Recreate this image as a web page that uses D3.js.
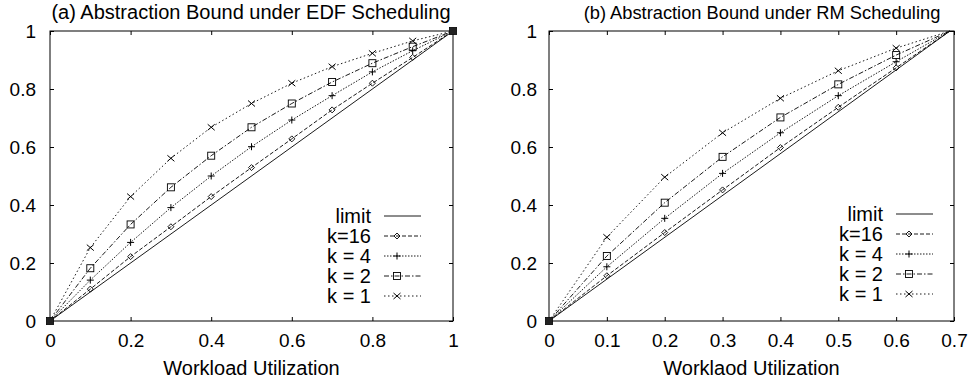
<!DOCTYPE html>
<html>
<head>
<meta charset="utf-8">
<script src="https://cdn.jsdelivr.net/npm/d3@7"></script>
<style>
  body { margin: 0; background: #fff; }
  text { font-family: "Liberation Sans", Arial, Helvetica, sans-serif; fill: #000; }
</style>
</head>
<body>
<script>
// data
const edfX = [0, 0.1, 0.2, 0.3, 0.4, 0.5, 0.6, 0.7, 0.8, 0.9, 1]
const edfK16 = [0, 0.11, 0.222, 0.325, 0.429, 0.529, 0.628, 0.728, 0.82, 0.909, 1]
const edfK4 = [0, 0.141, 0.271, 0.391, 0.5, 0.601, 0.693, 0.777, 0.859, 0.932, 1]
const edfK2 = [0, 0.182, 0.333, 0.461, 0.57, 0.668, 0.75, 0.824, 0.889, 0.946, 1]
const edfK1 = [0, 0.253, 0.429, 0.561, 0.668, 0.75, 0.82, 0.877, 0.923, 0.966, 1]

const rmX = [0, 0.1, 0.2, 0.3, 0.4, 0.5, 0.6]
const rmK16 = [0, 0.156, 0.305, 0.452, 0.598, 0.737, 0.873]
const rmK4 = [0, 0.187, 0.354, 0.509, 0.649, 0.777, 0.894]
const rmK2 = [0, 0.224, 0.408, 0.566, 0.702, 0.816, 0.917]
const rmK1 = [0, 0.289, 0.496, 0.649, 0.768, 0.863, 0.941]
const rmBound = 0.693   // every RM curve ends at (ln 2, 1)

const seriesNames = ['k=16', 'k = 4', 'k = 2', 'k = 1']
const edfXTicks = [0, 0.2, 0.4, 0.6, 0.8, 1]
const rmXTicks = [0, 0.1, 0.2, 0.3, 0.4, 0.5, 0.6, 0.7]
const yTicks = [0, 0.2, 0.4, 0.6, 0.8, 1]

// line styles / markers, one per k series
const dashes = ['4,2', '1.5,1.5', '5,2,1.5,2', '1.5,2.5']
const markers = ['diamond', 'plus', 'square', 'cross']

const svg = d3.select('body').append('svg')
    .attr('width', 970)
    .attr('height', 383)

function drawMarker(g, type, x, y) {
    const s = 3
    if (type == 'diamond') {
        g.append('path').attr('d', `M${x},${y-s}L${x+s},${y}L${x},${y+s}L${x-s},${y}Z`)
            .attr('fill', 'none').attr('stroke', '#000').attr('stroke-width', 0.9)
    } else if (type == 'plus') {
        g.append('path').attr('d', `M${x-3.5},${y}H${x+3.5}M${x},${y-3.5}V${y+3.5}`)
            .attr('stroke', '#000').attr('stroke-width', 1)
    } else if (type == 'square') {
        g.append('rect').attr('x', x-3.5).attr('y', y-3.5).attr('width', 7).attr('height', 7)
            .attr('fill', 'none').attr('stroke', '#000').attr('stroke-width', 0.9)
    } else {
        g.append('path').attr('d', `M${x-3.5},${y-3}L${x+3.5},${y+3}M${x-3.5},${y+3}L${x+3.5},${y-3}`)
            .attr('stroke', '#000').attr('stroke-width', 1)
    }
}

function drawPanel(opt) {
    const g = svg.append('g')
    const x = d3.scaleLinear().domain(opt.xDomain).range([opt.left, opt.right])
    const y = d3.scaleLinear().domain([0, 1]).range([321, 31])

    // frame
    g.append('rect')
        .attr('x', opt.left).attr('y', 31)
        .attr('width', opt.right - opt.left).attr('height', 290)
        .attr('fill', 'none').attr('stroke', '#000').attr('stroke-width', 1)

    // ticks (mirrored, pointing inward)
    g.append('g').attr('transform', 'translate(0,321)')
        .call(d3.axisBottom(x).tickValues(opt.xTicks).tickSize(-4).tickFormat(d => d3.format('~g')(d)).tickPadding(13))
        .call(a => a.select('.domain').remove())
        .call(a => a.selectAll('text').style('font-size', '19px').style('font-family', 'Liberation Sans, Arial, sans-serif'))
    g.append('g').attr('transform', 'translate(0,31)')
        .call(d3.axisTop(x).tickValues(opt.xTicks).tickSize(-4).tickFormat(''))
        .call(a => a.select('.domain').remove())
    g.append('g').attr('transform', 'translate(' + opt.left + ',0)')
        .call(d3.axisLeft(y).tickValues(yTicks).tickSize(-4).tickFormat(d => d3.format('~g')(d)).tickPadding(opt.yPad))
        .call(a => a.select('.domain').remove())
        .call(a => a.selectAll('text').style('font-size', '19px').style('font-family', 'Liberation Sans, Arial, sans-serif'))
    g.append('g').attr('transform', 'translate(' + opt.right + ',0)')
        .call(d3.axisRight(y).tickValues(yTicks).tickSize(-4).tickFormat(''))
        .call(a => a.select('.domain').remove())

    // titles
    g.append('text')
        .attr('x', opt.titleX).attr('y', 19)
        .attr('text-anchor', 'middle')
        .style('font-size', opt.titleSize)
        .text(opt.title)
    g.append('text')
        .attr('x', (opt.left + opt.right) / 2).attr('y', 375)
        .attr('text-anchor', 'middle')
        .style('font-size', '20px')
        .text(opt.xLabel)

    const line = d3.line().x(d => x(d[0])).y(d => y(d[1]))

    // limit line
    g.append('path')
        .datum([[0, 0], [opt.limitEnd, 1]])
        .attr('d', line)
        .attr('fill', 'none').attr('stroke', '#000').attr('stroke-width', 0.9)

    // k series
    opt.series.forEach((vals, i) => {
        const pts = opt.xs.map((v, j) => [v, vals[j]])
        const full = opt.tail ? pts.concat([opt.tail]) : pts
        g.append('path')
            .datum(full)
            .attr('d', line)
            .attr('fill', 'none').attr('stroke', '#000').attr('stroke-width', 0.9)
            .attr('stroke-dasharray', dashes[i])
        pts.forEach(p => drawMarker(g, markers[i], x(p[0]), y(p[1])))
    })

    // points shared by every curve show as a solid blob
    opt.shared.forEach(p => {
        g.append('rect')
            .attr('x', x(p[0]) - 3.5).attr('y', y(p[1]) - 3.5)
            .attr('width', 7).attr('height', 7)
            .attr('fill', '#222')
    })

    // legend
    const labels = ['limit'].concat(seriesNames)
    labels.forEach((lab, i) => {
        const ly = opt.legendY + i * 20
        g.append('text')
            .attr('x', opt.legendX).attr('y', ly).attr('dy', '0.35em')
            .attr('text-anchor', 'end')
            .style('font-size', '20px')
            .text(lab)
        const lx0 = opt.legendX + 13, lx1 = opt.legendX + 50
        g.append('line')
            .attr('x1', lx0).attr('x2', lx1).attr('y1', ly).attr('y2', ly)
            .attr('stroke', '#000').attr('stroke-width', 0.9)
            .attr('stroke-dasharray', i == 0 ? null : dashes[i - 1])
        if (i > 0) drawMarker(g, markers[i - 1], lx0 + 13, ly)
    })
}

drawPanel({
    left: 50, right: 453,
    xDomain: [0, 1], xTicks: edfXTicks, yPad: 14,
    title: '(a) Abstraction Bound under EDF Scheduling',
    titleX: 251, titleSize: '20px',
    xLabel: 'Workload Utilization',
    limitEnd: 1,
    xs: edfX, series: [edfK16, edfK4, edfK2, edfK1],
    tail: null,
    shared: [[0, 0], [1, 1]],
    legendX: 371, legendY: 216
})

drawPanel({
    left: 549, right: 954,
    xDomain: [0, 0.7], xTicks: rmXTicks, yPad: 12,
    title: '(b) Abstraction Bound under RM Scheduling',
    titleX: 762, titleSize: '18.3px',
    xLabel: 'Worklaod Utilization',
    limitEnd: rmBound,
    xs: rmX, series: [rmK16, rmK4, rmK2, rmK1],
    tail: [rmBound, 1],
    shared: [[0, 0]],
    legendX: 883, legendY: 214
})
</script>
</body>
</html>
